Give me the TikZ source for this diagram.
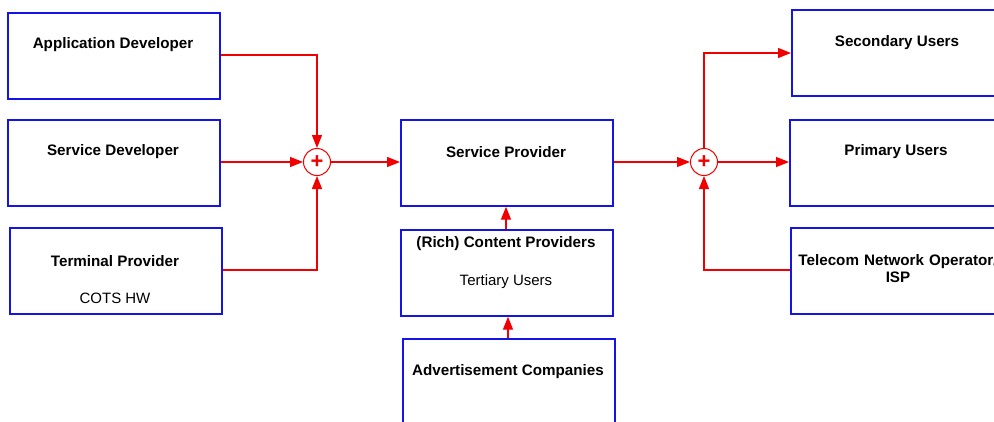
\documentclass[tikz,border=0pt]{standalone}
\usepackage{fontspec}
\setmainfont{Liberation Sans}
\usetikzlibrary{arrows.meta}
\definecolor{boxblue}{RGB}{20,20,230}
\definecolor{linered}{RGB}{240,0,0}
\begin{document}
\begin{tikzpicture}[x=1pt,y=-1pt,
  blk/.style={draw=boxblue,line width=1.7pt,fill=white,minimum width=212pt,minimum height=86pt,anchor=north west,inner sep=0pt},
  ttl/.style={font=\bfseries\fontsize{15.2}{17}\selectfont,align=center},
  sub/.style={font=\fontsize{15}{17}\selectfont},
  sumc/.style={draw=linered,line width=1pt,circle,minimum size=27pt,inner sep=0pt,font=\bfseries\fontsize{22}{22}\selectfont,text=linered},
  conn/.style={draw=linered,line width=1.4pt,-{Triangle[length=13pt,width=10pt]}}]
\useasboundingbox (0,0) rectangle (994,421);
\begin{scope}
\clip (0,0) rectangle (994,421);
% boxes
\node[blk] (app) at (7,12) {};
\node[blk] (sdev) at (7,119) {};
\node[blk] (term) at (9,227) {};
\node[blk] (sp) at (400,119) {};
\node[blk] (cp) at (400,229) {};
\node[blk,minimum height=100pt] (adv) at (402,338) {};
\node[blk,minimum width=215pt] (sec) at (791,9) {};
\node[blk,minimum width=215pt] (prim) at (789,119) {};
\node[blk,minimum width=215pt] (tel) at (790,227) {};
% texts
\node[ttl] (tapp) at (113,45) {Application Developer};
\node[ttl] (tsdev) at (113,152) {Service Developer};
\node[ttl] (tterm) at (115,261) {Terminal Provider};
\node[sub] (tcots) at (115,298) {COTS HW};
\node[ttl] (tsp) at (506,152) {Service Provider};
\node[ttl] (tcp) at (506,244) {(Rich) Content Providers};
\node[sub] (ttert) at (506,282) {Tertiary Users};
\node[ttl] (tadv) at (508,372) {Advertisement Companies};
\node[ttl] (tsec) at (897,43) {Secondary Users};
\node[ttl] (tprim) at (896,152) {Primary Users};
\node[ttl,text width=260pt] (ttel) at (898,269) {Telecom Network Operator/\\ISP};
% summing junctions
\node[sumc] (s1) at (317,162) {+};
\node[sumc] (s2) at (704,162) {+};
% connectors
\draw[conn] (app.east |- 0,55) -| (s1.north);
\draw[conn] (sdev.east |- s1) -- (s1.west);
\draw[conn] (term.east |- 0,270) -| (s1.south);
\draw[conn] (s1.east) -- (sp.west |- s1);
\draw[conn] (sp.east |- s2) -- (s2.west);
\draw[conn] (s2.north) |- (sec.west |- 0,53);
\draw[conn] (s2.east) -- (prim.west |- s2);
\draw[conn] (tel.west |- 0,270) -| (s2.south);
\draw[conn] (cp.north -| 506,0) -- (sp.south -| 506,0);
\draw[conn] (adv.north -| 508,0) -- (cp.south -| 508,0);
\end{scope}
\end{tikzpicture}
\end{document}
